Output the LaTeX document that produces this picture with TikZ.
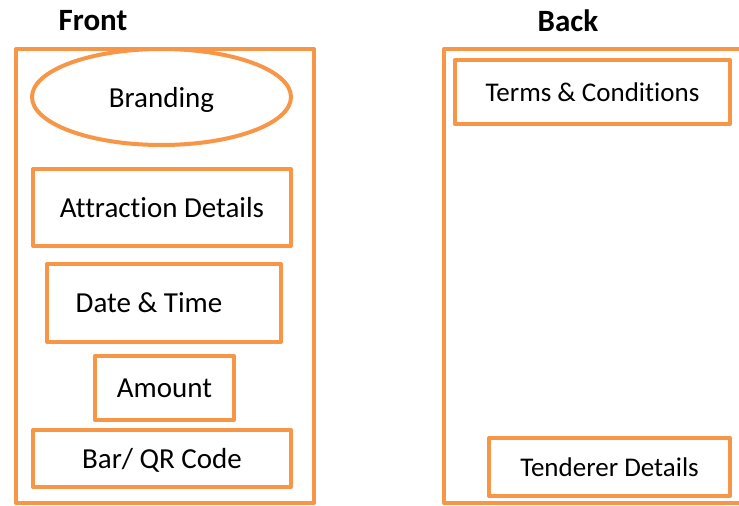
\documentclass[tikz,border=0pt]{standalone}
\usepackage{fontspec}
\setmainfont{Carlito}[Ligatures=NoCommon]
\usetikzlibrary{shapes.geometric}
\definecolor{accent}{HTML}{F79646}
\tikzset{
  panel/.style={draw=accent, line width=4pt, line join=round, rectangle, inner sep=0pt, minimum width=#1},
  box/.style={draw=accent, line width=4pt, line join=round, rectangle, inner sep=0pt, text depth=0pt, font=\fontsize{29}{34}\selectfont},
  oval/.style={draw=accent, line width=4pt, ellipse, inner sep=0pt, text depth=0pt, font=\fontsize{29}{34}\selectfont},
  title/.style={font=\fontsize{31}{36}\selectfont\bfseries},
  plain/.style={inner sep=0pt, text depth=0pt, font=\fontsize{29}{34}\selectfont},
  small/.style={font=\fontsize{27}{32}\selectfont}
}
\begin{document}
\begin{tikzpicture}[x=1pt, y=-1pt]
\clip (0,0) rectangle (739,506);
\fill[white] (0,0) rectangle (739,506);
% panels
\node[panel=298pt, minimum height=454pt] (front) at (165,276) {};
\node[panel=316pt, minimum height=454pt] (back) at (602,276) {};
% titles
\node[title] (ft) at (93,21) {Front};
\node[title] (bt) at (568,21) {Back};
% front side
\node[oval, minimum width=259pt, minimum height=96pt] (brand) at (161.5,97) {Branding};
\node[box, minimum width=258pt, minimum height=77pt] (attr) at (162,207.5) {Attraction Details};
\node[box, minimum width=234pt, minimum height=78pt] (date) at (164,303) {};
\node[plain] (datet) at (149,303) {Date \& Time};
\node[box, minimum width=139pt, minimum height=64pt] (amt) at (164.5,388) {Amount};
\node[box, minimum width=258pt, minimum height=57pt] (bar) at (162,458.5) {Bar/ QR Code};
% back side
\node[box, small, minimum width=275pt, minimum height=64pt] (terms) at (592.5,92) {Terms \& Conditions};
\node[box, small, minimum width=241pt, minimum height=58pt] (tend) at (609.5,467) {Tenderer Details};
\end{tikzpicture}
\end{document}
